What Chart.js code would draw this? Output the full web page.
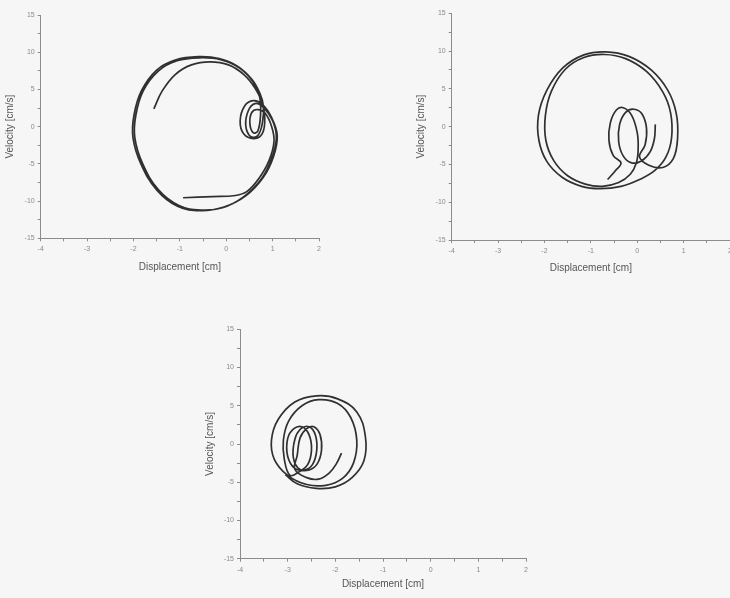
<!DOCTYPE html>
<html lang="en">
<head>
<meta charset="utf-8">
<title>Phase portraits</title>
<script src="https://cdn.jsdelivr.net/npm/chart.js"></script>
<style>
    html, body { margin: 0; padding: 0; }
    body {
        width: 730px; height: 598px; overflow: hidden;
        background: #f6f6f6; position: relative;
    }
    canvas { position: absolute; }
</style>
</head>
<body>
    <canvas id="c1" width="340" height="276" style="left:0;top:0"></canvas>
    <canvas id="c2" width="330" height="277" style="left:411px;top:0"></canvas>
    <canvas id="c3" width="346" height="279" style="left:200px;top:314px"></canvas>

<script>
// axis ranges and labelled ticks (shared by all three plots)
const xRange = [-4, 2];
const yRange = [-15, 15];
const xTicks = [-4, -3, -2, -1, 0, 1, 2];
const yTicks = [-15, -10, -5, 0, 5, 10, 15];

// plot 1 (top left) - displacement [cm], velocity [cm/s]
const disp1 = [-1.56, -1.38, -1.1, -0.75, -0.35, 0.05, 0.38, 0.62, 0.76,
    0.83, 0.78, 0.6, 0.38, 0.3, 0.4, 0.58, 0.78,
    0.98, 1.1, 1.02, 0.8, 0.42, -0.05, -0.55, -1.05, -1.5, -1.84, -2.01, -1.99, -1.83, -1.5, -1.1, -0.6, -0.15, 0.25, 0.56, 0.73, 0.8,
    0.78, 0.68, 0.52, 0.42, 0.48, 0.62, 0.8,
    1.0, 1.08, 0.98, 0.76, 0.38, -0.08, -0.55, -1.02, -1.46, -1.8, -1.97, -1.95, -1.79, -1.46, -1.06, -0.58, -0.12, 0.28, 0.58, 0.72,
    0.74, 0.68, 0.58, 0.51, 0.55, 0.68, 0.84,
    0.98, 1.03, 0.92, 0.7, 0.45, 0.2, -0.3, -0.93];
const vel1 = [2.4, 4.8, 7.0, 8.3, 8.7, 8.3, 7.0, 5.2, 3.4,
    1.2, -0.9, -1.6, -1.0, 0.8, 2.8, 3.5, 3.0,
    1.2, -1.2, -4.0, -6.8, -9.3, -10.8, -11.3, -10.7, -8.5, -5.0, -1.5, 1.5, 4.8, 7.6, 8.95, 9.4, 9.15, 8.1, 6.3, 4.4, 2.8,
    0.5, -1.2, -1.3, 0.2, 2.2, 3.1, 2.6,
    0.8, -1.5, -4.3, -7.0, -9.4, -10.9, -11.2, -10.6, -8.5, -5.0, -1.5, 1.5, 4.8, 7.5, 8.85, 9.25, 9.0, 7.9, 6.0, 4.0,
    1.6, -0.6, -0.8, 0.4, 1.9, 2.3, 1.8,
    0.0, -2.0, -4.6, -7.0, -8.7, -9.25, -9.4, -9.55];

// plot 2 (top right)
const disp2 = [0.39, 0.37, 0.28, 0.1, -0.12, -0.3, -0.4, -0.38, -0.25, -0.07, 0.1, 0.2, 0.17, 0.05,
    0.25, 0.55, 0.78,
    0.87, 0.84, 0.66, 0.3, -0.18, -0.68, -1.15, -1.6, -1.95, -2.13, -2.12, -1.95, -1.62, -1.2, -0.8, -0.35, 0.05, 0.38, 0.62,
    0.74, 0.72, 0.55, 0.2, -0.25, -0.7, -1.15, -1.55, -1.85, -1.98, -1.97, -1.8, -1.5, -1.12, -0.75, -0.4, -0.15,
    -0.02, 0.02, 0.0, -0.12, -0.3, -0.45, -0.58, -0.61, -0.52, -0.35, -0.48, -0.64];
const vel2 = [0.3, -1.6, -3.3, -4.5, -4.8, -3.9, -2.0, 0.3, 1.9, 2.3, 1.7, -0.2, -2.4, -4.0,
    -5.1, -5.4, -4.2,
    -1.5, 1.8, 4.8, 7.5, 9.3, 9.9, 9.5, 7.8, 4.8, 1.5, -1.8, -4.6, -6.7, -7.9, -8.2, -7.9, -7.0, -5.8, -4.0,
    -1.5, 1.8, 4.6, 7.3, 9.0, 9.55, 9.15, 7.6, 4.7, 1.5, -1.8, -4.5, -6.5, -7.6, -7.9, -7.4, -6.3,
    -4.8, -3.0, -0.8, 1.5, 2.5, 2.2, 0.5, -1.8, -3.8, -4.8, -5.9, -7.0];

// plot 3 (bottom)
const disp3 = [-1.87, -1.98, -2.13, -2.35, -2.6, -2.85,
    -2.8, -2.74, -2.6, -2.45, -2.32, -2.29, -2.38, -2.55, -2.75,
    -2.88, -2.85, -2.72, -2.55, -2.42, -2.39, -2.48, -2.65, -2.85,
    -3.0, -3.0, -2.87, -2.7, -2.55, -2.5, -2.58, -2.75,
    -2.95, -3.07, -3.09, -2.98, -2.7, -2.35, -1.95, -1.68, -1.55, -1.62, -1.85, -2.2, -2.6, -3.0,
    -3.28, -3.34, -3.2, -2.85, -2.39, -1.95, -1.55, -1.37, -1.4, -1.65, -2.0, -2.4, -2.8, -3.05];
const vel3 = [-1.2, -2.6, -3.8, -4.6, -4.4, -3.3,
    -1.5, 0.8, 2.0, 2.25, 1.2, -0.8, -2.6, -3.4, -3.3,
    -1.8, 0.6, 2.0, 2.25, 1.2, -0.8, -2.7, -3.4, -3.2,
    -1.6, 0.7, 2.0, 2.25, 1.2, -0.8, -2.7, -3.6,
    -4.1, -2.0, 0.5, 3.0, 5.0, 5.8, 5.3, 3.5, 0.5, -2.5, -4.5, -5.4, -5.3, -4.1,
    -2.0, 0.5, 3.2, 5.5, 6.3, 5.9, 4.2, 1.0, -2.2, -4.4, -5.6, -5.8, -5.2, -4.0];

const fontFamily = '"Liberation Sans", Arial, sans-serif';
const axisColor = '#8c8c8c';

function makePlot(id, disp, vel, box) {
    const points = disp.map((x, i) => ({ x: x, y: vel[i] }));
    new Chart(document.getElementById(id), {
        type: 'scatter',
        data: {
            datasets: [{
                data: points,
                showLine: true,
                pointRadius: 0,
                borderColor: '#303030',
                borderWidth: 1.7,
                tension: 0.4,
                fill: false
            }]
        },
        options: {
            responsive: false,
            animation: false,
            layout: { padding: { top: box.padTop, right: box.padRight, left: 0, bottom: 0 } },
            plugins: { legend: { display: false }, tooltip: { enabled: false } },
            scales: {
                x: {
                    type: 'linear', min: xRange[0], max: xRange[1],
                    border: { display: true, color: axisColor, width: 1, dash: [1, 1] },
                    grid: { display: true, drawOnChartArea: false, drawTicks: true, tickLength: 3, color: axisColor },
                    ticks: {
                        stepSize: 0.5, autoSkip: false, maxRotation: 0, padding: 4,
                        color: '#8a8a8a', font: { size: 7, family: fontFamily },
                        callback: v => xTicks.includes(v) ? String(v) : ''
                    },
                    title: {
                        display: true, text: 'Displacement [cm]', color: '#555',
                        font: { size: 10, family: fontFamily }, padding: { top: 2, bottom: 3 }
                    },
                    afterFit: s => { s.height = box.xHeight; }
                },
                y: {
                    type: 'linear', min: yRange[0], max: yRange[1],
                    border: { display: true, color: axisColor, width: 1, dash: [1, 1] },
                    grid: { display: true, drawOnChartArea: false, drawTicks: true, tickLength: 3, color: axisColor },
                    ticks: {
                        stepSize: 2.5, autoSkip: false, padding: 3,
                        color: '#8a8a8a', font: { size: 7, family: fontFamily },
                        callback: v => yTicks.includes(v) ? String(v) : ''
                    },
                    title: {
                        display: true, text: 'Velocity [cm/s]', color: '#555',
                        font: { size: 10, family: fontFamily }, padding: { top: 4, bottom: 2 }
                    },
                    afterFit: s => { s.width = box.yWidth; }
                }
            }
        }
    });
}

makePlot('c1', disp1, vel1, { padTop: 15, padRight: 21, yWidth: 40.7, xHeight: 37.7 });
makePlot('c2', disp2, vel2, { padTop: 13.3, padRight: 11, yWidth: 40.7, xHeight: 37 });
makePlot('c3', disp3, vel3, { padTop: 15.3, padRight: 20, yWidth: 40, xHeight: 34.3 });
</script>
</body>
</html>
